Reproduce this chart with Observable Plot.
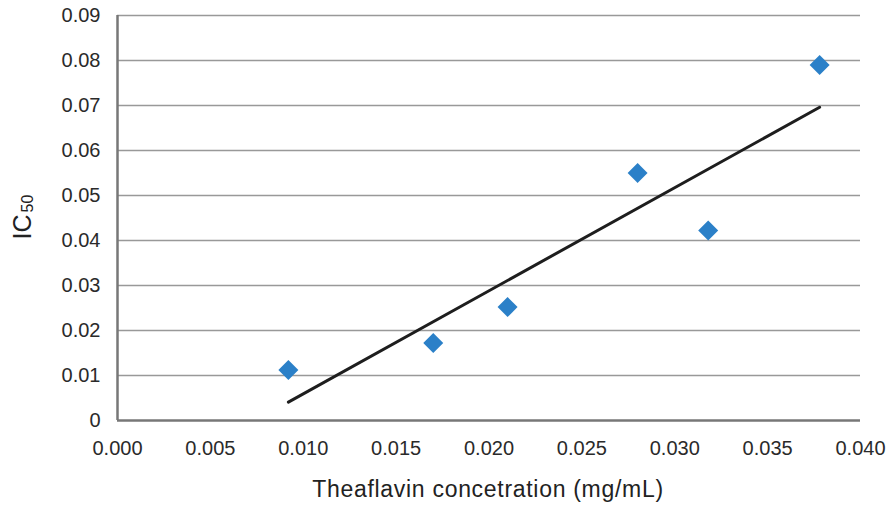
<!DOCTYPE html>
<html>
<head>
<meta charset="utf-8">
<script src="https://cdn.jsdelivr.net/npm/d3@7"></script>
<script src="https://cdn.jsdelivr.net/npm/@observablehq/plot@0.6"></script>
<style>
  html, body { margin: 0; padding: 0; background: #fff; }
  #chart { width: 888px; height: 506px; }
</style>
</head>
<body>
<div id="chart"></div>
<script>
const theaflavin = [0.0092, 0.0170, 0.0210, 0.0280, 0.0318, 0.0378];
const ic50 = [0.0112, 0.0172, 0.0252, 0.0550, 0.0422, 0.0790];
const xTicks = [0.000, 0.005, 0.010, 0.015, 0.020, 0.025, 0.030, 0.035, 0.040];
const yTicks = [0, 0.01, 0.02, 0.03, 0.04, 0.05, 0.06, 0.07, 0.08, 0.09];
const xLabel = "Theaflavin concetration (mg/mL)";

const data = theaflavin.map((x, i) => ({x, y: ic50[i]}));
const font = "'Liberation Sans', Arial, sans-serif";

const plot = Plot.plot({
  width: 888,
  height: 506,
  marginLeft: 117,
  marginRight: 28,
  marginTop: 15,
  marginBottom: 86,
  style: {fontFamily: font, fontSize: "20px", color: "#333", background: "#fff"},
  x: {domain: [0, 0.04]},
  y: {domain: [0, 0.09]},
  marks: [
    Plot.gridY(yTicks.filter(d => d > 0), {stroke: "#999", strokeOpacity: 1, strokeWidth: 1.5}),
    Plot.ruleX([0], {stroke: "#777", strokeWidth: 2.5}),
    Plot.ruleY([0], {stroke: "#777", strokeWidth: 2.5}),
    Plot.axisX(xTicks, {tickSize: 0, tickPadding: 20, tickFormat: d => d.toFixed(3), fontSize: 20, fill: "#2a2a2a", label: null}),
    Plot.axisY(yTicks, {tickSize: 0, tickPadding: 17, tickFormat: d => d === 0 ? "0" : d.toFixed(2), fontSize: 20, fill: "#2a2a2a", label: null}),
    Plot.linearRegressionY(data, {x: "x", y: "y", ci: 0, stroke: "#1e1e1e", strokeWidth: 3}),
    Plot.dot(data, {x: "x", y: "y", symbol: "diamond2", r: 9, fill: "#2b80c8", stroke: "none"})
  ]
});

const svg = d3.select(plot);
svg.append("text")
  .attr("x", 488).attr("y", 497)
  .attr("text-anchor", "middle")
  .attr("font-family", font).attr("font-size", 23)
  .attr("letter-spacing", 0.7).attr("fill", "#222")
  .text(xLabel);
const yl = svg.append("text")
  .attr("transform", "translate(31,217) rotate(-90)")
  .attr("text-anchor", "middle")
  .attr("font-family", font).attr("font-size", 25).attr("fill", "#222");
yl.append("tspan").text("IC");
yl.append("tspan").attr("font-size", 16).attr("dy", 2).attr("dx", 2).text("50");

document.getElementById("chart").appendChild(plot);
</script>
</body>
</html>
